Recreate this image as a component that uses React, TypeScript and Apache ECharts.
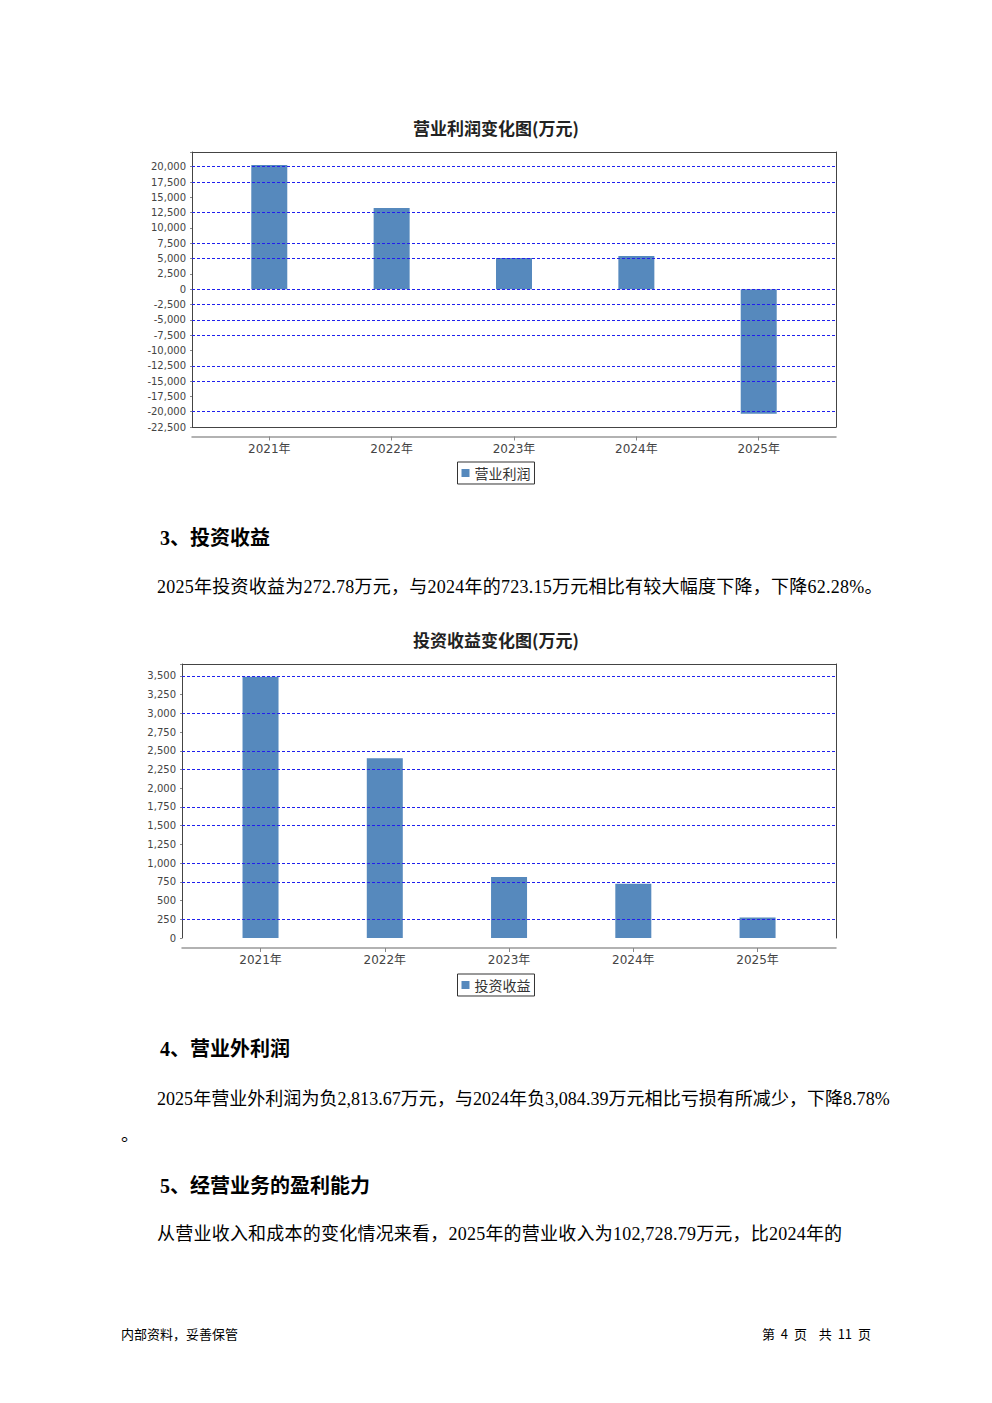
import React, { useEffect, useRef } from "react";
import * as echarts from "echarts";

const years = ["2021年", "2022年", "2023年", "2024年", "2025年"];

const profitTitle = "营业利润变化图(万元)";
const profitName = "营业利润";
const profitValues = [20280, 13260, 5100, 5420, -20330];
const profitGridValues = [20000, 17500, 12500, 7500, 5000, 0, -2500, -5000, -7500, -12500, -15000, -20000];
const profitMin = -22500;
const profitMax = 22400;
const profitInterval = 2500;

const investTitle = "投资收益变化图(万元)";
const investName = "投资收益";
const investValues = [3490, 2400, 815, 723.15, 272.78];
const investGridValues = [3500, 3000, 2500, 2250, 1750, 1500, 1000, 750, 250];
const investMin = 0;
const investMax = 3660;
const investInterval = 250;

const AXIS_FONT = '"DejaVu Sans", "Noto Sans CJK SC", sans-serif';
const CJK_FONT = '"Noto Sans CJK SC", sans-serif';

type Cfg = {
  title: string;
  name: string;
  cats: string[];
  values: number[];
  gridValues: number[];
  min: number;
  max: number;
  interval: number;
  frameLeft: number;
  frameRight: number;
  barLeft: number;
  barWidthArea: number;
  plotHeight: number;
  bottomBorder: boolean;
  axisOffset: number;
};

function buildOption(c: Cfg): any {
  const top = 52;
  const frameWidth = c.frameRight - c.frameLeft;
  const noLabel = { show: false };
  const xAxes: any[] = [
    {
      gridIndex: 0,
      type: "value",
      min: 0,
      max: 1,
      position: "top",
      axisLine: { show: true, onZero: false, lineStyle: { color: "#444", width: 1 } },
      axisTick: { show: false },
      axisLabel: noLabel,
      splitLine: { show: false },
    },
    {
      gridIndex: 0,
      type: "value",
      min: 0,
      max: 1,
      position: "bottom",
      offset: c.axisOffset,
      axisLine: { show: true, onZero: false, lineStyle: { color: "#999", width: 1.5 } },
      axisTick: { show: false },
      axisLabel: noLabel,
      splitLine: { show: false },
    },
    {
      gridIndex: 1,
      type: "category",
      data: c.cats,
      position: "bottom",
      offset: c.axisOffset,
      axisLine: { show: false, onZero: false },
      axisTick: { show: true, alignWithLabel: true, length: 4, lineStyle: { color: "#888" } },
      axisLabel: { margin: 6, fontSize: 12, color: "#444", fontFamily: AXIS_FONT },
      splitLine: { show: false },
    },
  ];
  if (c.bottomBorder) {
    xAxes.push({
      gridIndex: 0,
      type: "value",
      min: 0,
      max: 1,
      position: "bottom",
      offset: 0,
      axisLine: { show: true, onZero: false, lineStyle: { color: "#444", width: 1 } },
      axisTick: { show: false },
      axisLabel: noLabel,
      splitLine: { show: false },
    });
  }
  const yAxes: any[] = [
    {
      gridIndex: 0,
      type: "value",
      min: c.min,
      max: c.max,
      interval: c.interval,
      position: "left",
      axisLine: { show: true, onZero: false, lineStyle: { color: "#444", width: 1 } },
      axisTick: { show: true, length: 2, lineStyle: { color: "#888" } },
      axisLabel: {
        margin: 6,
        fontSize: 10,
        color: "#444",
        fontFamily: AXIS_FONT,
        formatter: (v: number) =>
          Math.abs(v % c.interval) > 1e-6 ? "" : v.toLocaleString("en-US"),
      },
      splitLine: { show: false },
    },
    {
      gridIndex: 0,
      type: "value",
      min: c.min,
      max: c.max,
      position: "right",
      axisLine: { show: true, onZero: false, lineStyle: { color: "#444", width: 1 } },
      axisTick: { show: false },
      axisLabel: noLabel,
      splitLine: { show: false },
    },
    {
      gridIndex: 1,
      type: "value",
      min: c.min,
      max: c.max,
      show: false,
      splitLine: { show: false },
    },
  ];
  return {
    animation: false,
    backgroundColor: "#fff",
    title: {
      text: c.title,
      left: "center",
      top: 14,
      textStyle: { fontSize: 17, fontWeight: "bold", color: "#222", fontFamily: CJK_FONT },
    },
    legend: {
      data: [c.name],
      top: 362,
      left: "center",
      icon: "rect",
      itemWidth: 8,
      itemHeight: 8,
      padding: [4, 4, 4, 4],
      borderColor: "#333",
      borderWidth: 1,
      borderRadius: 0,
      textStyle: { fontSize: 14, color: "#333", fontFamily: CJK_FONT },
    },
    grid: [
      { left: c.frameLeft, top, width: frameWidth, height: c.plotHeight, containLabel: false },
      { left: c.barLeft, top, width: c.barWidthArea, height: c.plotHeight, containLabel: false },
    ],
    xAxis: xAxes,
    yAxis: yAxes,
    series: [
      {
        type: "line",
        xAxisIndex: 0,
        yAxisIndex: 0,
        data: [],
        z: 1,
        silent: true,
        markLine: {
          silent: true,
          symbol: ["none", "none"],
          label: { show: false },
          lineStyle: { color: "#2020ee", type: [3, 2], width: 1 },
          data: c.gridValues.map((v) => ({ yAxis: v })),
        },
      },
      {
        type: "bar",
        name: c.name,
        xAxisIndex: 2,
        yAxisIndex: 2,
        data: c.values,
        barWidth: 36,
        z: 3,
        itemStyle: { color: "#5689bd" },
      },
    ],
  };
}

function Chart({ top, option }: { top: number; option: any }) {
  const ref = useRef<HTMLDivElement>(null);
  useEffect(() => {
    if (!ref.current) return;
    const chart = echarts.init(ref.current, undefined, { renderer: "svg" });
    chart.setOption(option);
    return () => chart.dispose();
  }, []);
  return (
    <div
      ref={ref}
      style={{ position: "absolute", left: 0, top, width: 992, height: 400 }}
    />
  );
}

const BODY_FONT = '"Liberation Serif", "Noto Sans CJK SC", serif';

function Line({
  left,
  cy,
  size,
  bold,
  text,
  right,
  family,
  spacing,
  wordSpacing,
}: {
  left?: number;
  cy: number;
  size: number;
  bold?: boolean;
  text: string;
  right?: number;
  family?: string;
  spacing?: number;
  wordSpacing?: number;
}) {
  const style: any = {
    position: "absolute",
    top: cy - size * 0.45,
    fontSize: size,
    lineHeight: `${size}px`,
    fontWeight: bold ? "bold" : "normal",
    fontFamily: family || BODY_FONT,
    color: "#000",
    whiteSpace: "pre",
    letterSpacing: spacing ? `${spacing}px` : undefined,
    wordSpacing: wordSpacing ? `${wordSpacing}px` : undefined,
  };
  if (left !== undefined) style.left = left;
  if (right !== undefined) style.right = right;
  return <div style={style}>{text}</div>;
}

export default function App() {
  const profitOption = buildOption({
    title: profitTitle,
    name: profitName,
    cats: years,
    values: profitValues,
    gridValues: profitGridValues,
    min: profitMin,
    max: profitMax,
    interval: profitInterval,
    frameLeft: 192,
    frameRight: 836,
    barLeft: 208.1,
    barWidthArea: 611.8,
    plotHeight: 275,
    bottomBorder: true,
    axisOffset: 9.5,
  });
  const investOption = buildOption({
    title: investTitle,
    name: investName,
    cats: years,
    values: investValues,
    gridValues: investGridValues,
    min: investMin,
    max: investMax,
    interval: investInterval,
    frameLeft: 182,
    frameRight: 836,
    barLeft: 198.4,
    barWidthArea: 621.3,
    plotHeight: 274,
    bottomBorder: false,
    axisOffset: 10,
  });
  return (
    <div
      style={{
        position: "absolute",
        left: 0,
        top: 0,
        width: 992,
        height: 1403,
        background: "#fff",
        overflow: "hidden",
      }}
    >
      <Chart top={100} option={profitOption} />
      <Line left={160} cy={537} size={20} bold text="3、投资收益" />
      <Line
        left={157}
        cy={586}
        size={18}
        spacing={0.25}
        text="2025年投资收益为272.78万元，与2024年的723.15万元相比有较大幅度下降，下降62.28%。"
      />
      <Chart top={612} option={investOption} />
      <Line left={160} cy={1048} size={20} bold text="4、营业外利润" />
      <Line
        left={157}
        cy={1098}
        size={18}
        spacing={0.04}
        text="2025年营业外利润为负2,813.67万元，与2024年负3,084.39万元相比亏损有所减少，下降8.78%"
      />
      <Line left={121} cy={1134} size={18} text="。" />
      <Line left={160} cy={1185} size={20} bold text="5、经营业务的盈利能力" />
      <Line
        left={157}
        cy={1233}
        size={18}
        spacing={0.22}
        text="从营业收入和成本的变化情况来看，2025年的营业收入为102,728.79万元，比2024年的"
      />
      <Line left={121} cy={1333} size={13} text="内部资料，妥善保管" family={CJK_FONT} />
      <Line
        right={992 - 871}
        cy={1333}
        size={13}
        wordSpacing={3}
        text="第 4 页  共 11 页"
        family={CJK_FONT}
      />
    </div>
  );
}
